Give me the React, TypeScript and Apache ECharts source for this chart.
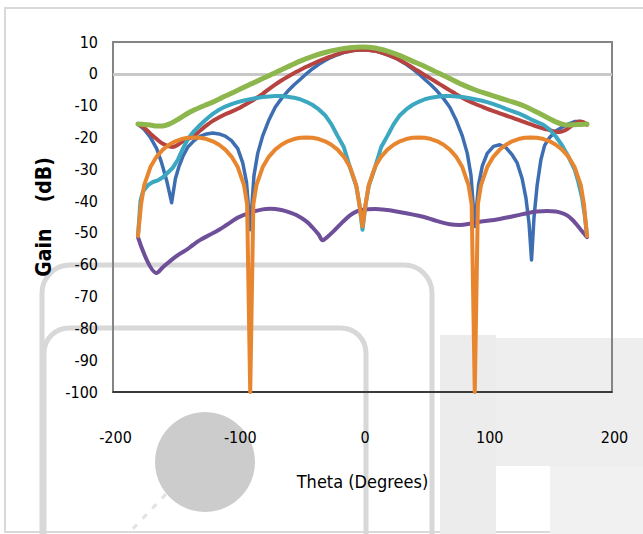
import React, { useEffect, useRef } from "react";
import * as echarts from "echarts";

// Axis ticks
const xTicks = [-200, -100, 0, 100, 200];
const yMin = -100;
const yMax = 10;

// [theta (deg), gain (dB)]
const bluePts: number[][] = [
  [-180, -15.8], [-175, -17.5], [-170, -20], [-165, -23.5], [-161, -28], [-157, -33.5], [-153, -40.5],
  [-150, -33], [-147, -29], [-144, -26], [-140, -23], [-135, -21], [-130, -19.6], [-125, -18.9],
  [-120, -18.6], [-115, -18.9], [-110, -19.6], [-105, -21], [-100, -23.5], [-96, -28], [-93, -34],
  [-90, -49], [-87, -32], [-84, -25], [-80, -19.5], [-75, -14.5], [-70, -10.5], [-65, -7.8],
  [-60, -5.5], [-55, -3.5], [-50, -1.8], [-45, 0], [-40, 1.6], [-35, 3], [-30, 4.2], [-25, 5.2],
  [-20, 6], [-15, 6.7], [-10, 7.2], [-5, 7.5], [0, 7.6], [5, 7.5], [10, 7.2], [15, 6.7], [20, 6],
  [25, 5.2], [30, 4.2], [35, 3], [40, 1.6], [45, 0], [50, -1.8], [55, -3.5], [60, -5.5], [65, -7.8],
  [70, -10.5], [75, -14.5], [80, -19.5], [84, -25], [87, -32], [90, -48], [93, -35], [96, -29],
  [100, -25], [105, -22.8], [110, -22.3], [115, -23.2], [120, -25.5], [124, -28], [128, -33],
  [131, -39], [133.5, -47], [135.5, -58.5], [137.5, -45], [140, -35], [143, -27], [146, -22.5],
  [150, -20], [155, -18], [160, -16.8], [165, -15.8], [170, -15], [175, -15], [180, -15.8],
];

const redPts: number[][] = [
  [-180, -15.8], [-175, -17], [-170, -18.8], [-165, -20.5], [-160, -22], [-155, -22.8], [-152, -23],
  [-148, -22.3], [-144, -21.2], [-140, -20.5], [-136, -19.8], [-130, -17.8], [-125, -16.2],
  [-120, -14.8], [-114, -13.5], [-110, -12.7], [-105, -11.9], [-100, -11], [-95, -9.9], [-90, -8.8],
  [-85, -7.6], [-80, -6.3], [-75, -4.8], [-70, -3.4], [-65, -2.1], [-60, -0.9], [-55, 0.2], [-50, 1.2],
  [-45, 2.2], [-40, 3.1], [-35, 4], [-30, 4.8], [-25, 5.5], [-20, 6.2], [-15, 6.8], [-10, 7.2],
  [-5, 7.5], [0, 7.6], [5, 7.5], [10, 7.2], [15, 6.7], [20, 6], [25, 5.2], [30, 4.3], [35, 3.2],
  [40, 2], [45, 0.8], [50, -0.4], [55, -1.6], [60, -2.8], [65, -4], [70, -5.2], [75, -6.4],
  [80, -7.5], [85, -8.5], [90, -9.4], [95, -10.2], [100, -11], [105, -11.7], [110, -12.4],
  [115, -13.1], [120, -13.8], [125, -14.5], [130, -15.2], [135, -15.9], [140, -16.6], [145, -17.2],
  [150, -17.7], [155, -18.2], [158, -18.3], [162, -17.8], [166, -16.8], [170, -15.6], [174, -15],
  [177, -15.2], [180, -16],
];

const greenPts: number[][] = [
  [-180, -15.8], [-175, -15.9], [-170, -16.1], [-165, -16.4], [-160, -16.4], [-155, -15.8],
  [-150, -14.8], [-145, -13.6], [-140, -12.4], [-135, -11.4], [-130, -10.5], [-125, -9.7],
  [-120, -8.9], [-110, -7], [-100, -5.2], [-90, -3.3], [-80, -1.5], [-70, 0.3], [-60, 2.2],
  [-50, 4], [-40, 5.5], [-30, 6.7], [-20, 7.6], [-10, 8.2], [0, 8.4], [10, 8.1], [20, 7.1],
  [30, 5.7], [40, 4], [50, 2.3], [60, 0.4], [70, -1.5], [80, -3.4], [90, -5], [100, -6.3],
  [110, -7.6], [120, -8.8], [130, -10.2], [140, -12.1], [150, -14.1], [155, -15.1], [160, -15.8],
  [165, -16.1], [170, -16], [175, -15.9], [180, -15.8],
];

const purplePts: number[][] = [
  [-180, -51.3], [-165, -62.6], [-160, -60.8], [-150, -57.5], [-140, -55], [-136, -53.8],
  [-130, -52.2], [-122, -50.5], [-115, -49], [-109, -47.5], [-100, -45.2], [-90, -43.6],
  [-80, -42.6], [-74, -42.4], [-65, -42.8], [-58, -43.6], [-53, -44.4], [-45, -46.4], [-40, -48.3],
  [-35, -50.6], [-32, -52.3], [-28, -51.2], [-22, -49], [-16, -46.6], [-10, -44.5], [-5, -43.3],
  [0, -42.7], [10, -42.5], [20, -42.8], [25, -43.1], [35, -43.8], [45, -44.6], [52, -45.3],
  [60, -46.3], [70, -47.3], [78, -47.5], [85, -47.2], [92, -46.6], [100, -46.2], [110, -45.6],
  [118, -45], [125, -44.4], [132, -43.8], [140, -43.3], [148, -43.1], [155, -43.3], [160, -43.8],
  [164, -44.5], [168, -45.8], [172, -47.5], [176, -49.5], [180, -51.3],
];

const tealPts: number[][] = [
  [-180, -51], [-178, -40], [-176, -37], [-172, -35], [-168, -34], [-164, -33.5], [-160, -32.5],
  [-156, -31], [-152, -29.5], [-148, -27], [-144, -23.5], [-140, -20.5], [-135, -18], [-130, -16],
  [-125, -14.2], [-120, -12.6], [-115, -11.3], [-110, -10.3], [-105, -9.5], [-100, -8.9],
  [-95, -8.4], [-90, -8], [-85, -7.6], [-80, -7.3], [-75, -7.1], [-70, -7], [-65, -7], [-60, -7.2],
  [-55, -7.5], [-50, -8], [-45, -8.8], [-40, -9.8], [-35, -11.2], [-30, -13], [-25, -15.8],
  [-20, -19.5], [-15, -23], [-10, -29.5], [-5, -35.3], [-2.5, -41], [0, -49], [2.5, -41],
  [5, -35.3], [10, -29.5], [15, -23], [20, -19.5], [25, -15.8], [30, -13], [35, -11.2], [40, -9.8],
  [45, -8.8], [50, -8], [55, -7.5], [60, -7.2], [65, -7], [70, -7], [75, -7.1], [80, -7.3],
  [85, -7.6], [90, -8], [95, -8.4], [100, -8.9], [105, -9.5], [110, -10.2], [115, -11], [120, -11.7],
  [125, -12.4], [130, -13.3], [135, -14.3], [140, -15.2], [145, -16], [150, -17.5], [155, -19.7],
  [160, -22.5], [165, -26], [170, -30], [173, -34], [176, -39], [178, -44], [180, -51],
];

const orangePts: number[][] = [
  [-180, -51], [-177.5, -41], [-175, -35], [-170, -29.3], [-165, -26], [-160, -23.8], [-155, -22.3],
  [-150, -21.2], [-145, -20.5], [-140, -20.1], [-135, -20], [-130, -20.1], [-125, -20.5],
  [-120, -21.2], [-115, -22.3], [-110, -23.8], [-105, -26], [-100, -29.3], [-95, -35], [-92.5, -41],
  [-90, -100], [-87.5, -41], [-85, -35], [-80, -29.3], [-75, -26], [-70, -23.8], [-65, -22.3],
  [-60, -21.2], [-55, -20.5], [-50, -20.1], [-45, -20], [-40, -20.1], [-35, -20.5], [-30, -21.2],
  [-25, -22.3], [-20, -23.8], [-15, -26], [-10, -29.3], [-5, -35], [-2.5, -41], [0, -48], [2.5, -41],
  [5, -35], [10, -29.3], [15, -26], [20, -23.8], [25, -22.3], [30, -21.2], [35, -20.5], [40, -20.1],
  [45, -20], [50, -20.1], [55, -20.5], [60, -21.2], [65, -22.3], [70, -23.8], [75, -26], [80, -29.3],
  [85, -35], [87.5, -41], [90, -100], [92.5, -41], [95, -35], [100, -29.3], [105, -26], [110, -23.8],
  [115, -22.3], [120, -21.2], [125, -20.5], [130, -20.1], [135, -20], [140, -20.1], [145, -20.5],
  [150, -21.2], [155, -22.3], [160, -23.8], [165, -26], [170, -29.3], [175, -35], [177.5, -41],
  [180, -51],
];

const FONT = "'DejaVu Sans Condensed', 'Liberation Sans Narrow', 'Open Sans', sans-serif";

function lineSeries(name: string, data: number[][], color: string, width: number, smooth: number | boolean, z: number, extra: any = {}) {
  return {
    name,
    type: "line",
    data,
    showSymbol: false,
    symbol: "none",
    smooth,
    z,
    lineStyle: { color, width, cap: "round", join: "round" },
    itemStyle: { color },
    ...extra,
  };
}

export default function App() {
  const ref = useRef<HTMLDivElement>(null);
  useEffect(() => {
    const chart = echarts.init(ref.current!, null, { renderer: "svg" });
    const wm = "#d8d8d8";
    chart.setOption({
      animation: false,
      backgroundColor: "#ffffff",
      graphic: [
        { type: "rect", z: -10, silent: true, shape: { x: 5, y: 8, width: 660, height: 524 }, style: { fill: "none", stroke: "#d9d9d9", lineWidth: 2 } },
        { type: "rect", z: -10, silent: true, shape: { x: 440, y: 335, width: 56, height: 199 }, style: { fill: "#ececec" } },
        { type: "rect", z: -10, silent: true, shape: { x: 496, y: 338, width: 147, height: 128 }, style: { fill: "#eeeeee" } },
        { type: "rect", z: -10, silent: true, shape: { x: 550, y: 466, width: 93, height: 68 }, style: { fill: "#f1f1f1" } },
        { type: "rect", z: -10, silent: true, shape: { x: 42, y: 265, width: 390, height: 330, r: 28 }, style: { fill: "none", stroke: wm, lineWidth: 5 } },
        { type: "rect", z: -10, silent: true, shape: { x: 44, y: 328, width: 322, height: 260, r: 25 }, style: { fill: "none", stroke: wm, lineWidth: 5 } },
        { type: "circle", z: -10, silent: true, shape: { cx: 205, cy: 462, r: 50 }, style: { fill: "#cccccc" } },
        { type: "line", z: -10, silent: true, shape: { x1: 166, y1: 494, x2: 128, y2: 534 }, style: { stroke: "#e2e2e2", lineWidth: 3, lineDash: [6, 8] } },
      ],
      grid: {
        left: 113,
        right: 31,
        top: 42,
        bottom: 142,
        show: true,
        borderColor: "#858585",
        borderWidth: 2,
        backgroundColor: "transparent",
      },
      xAxis: {
        type: "value",
        min: xTicks[0],
        max: xTicks[xTicks.length - 1],
        interval: 100,
        name: "Theta (Degrees)",
        nameLocation: "middle",
        nameGap: 80,
        nameTextStyle: { fontFamily: FONT, fontSize: 18, color: "#000" },
        axisLine: { show: true, onZero: false, lineStyle: { color: "#222", width: 1.5 } },
        axisTick: { show: false },
        splitLine: { show: false },
        axisLabel: { fontFamily: FONT, fontSize: 16, color: "#000", margin: 37, padding: [0, 0, 0, 5] },
      },
      yAxis: {
        type: "value",
        min: yMin,
        max: yMax,
        interval: 10,
        name: "Gain    (dB)",
        nameLocation: "middle",
        nameGap: 58,
        nameRotate: 90,
        nameTextStyle: { fontFamily: FONT, fontSize: 21, fontWeight: "bold", color: "#000" },
        axisLine: { show: true, onZero: false, lineStyle: { color: "#858585", width: 2 } },
        axisTick: { show: false },
        splitLine: { show: false },
        axisLabel: { fontFamily: FONT, fontSize: 16, color: "#000", margin: 15 },
      },
      series: [
        lineSeries("Series1", bluePts, "#3d6eb2", 3.5, false, 3, {
          markLine: {
            silent: true,
            symbol: ["none", "none"],
            label: { show: false },
            lineStyle: { color: "#c8c8c8", width: 3, type: "solid" },
            data: [{ yAxis: 0 }],
            z: 1,
          },
        }),
        lineSeries("Series2", redPts, "#b6433f", 4, 0.3, 3),
        lineSeries("Series3", greenPts, "#8db64c", 5, 0.3, 4),
        lineSeries("Series4", purplePts, "#6f4f99", 4, 0.35, 3),
        lineSeries("Series5", tealPts, "#3ba7c0", 4, false, 3),
        lineSeries("Series6", orangePts, "#e8862f", 4, false, 3),
      ],
    });
    return () => chart.dispose();
  }, []);
  return (
    <div
      ref={ref}
      style={{ position: "absolute", left: 0, top: 0, width: 643, height: 534, background: "#fff" }}
    />
  );
}
